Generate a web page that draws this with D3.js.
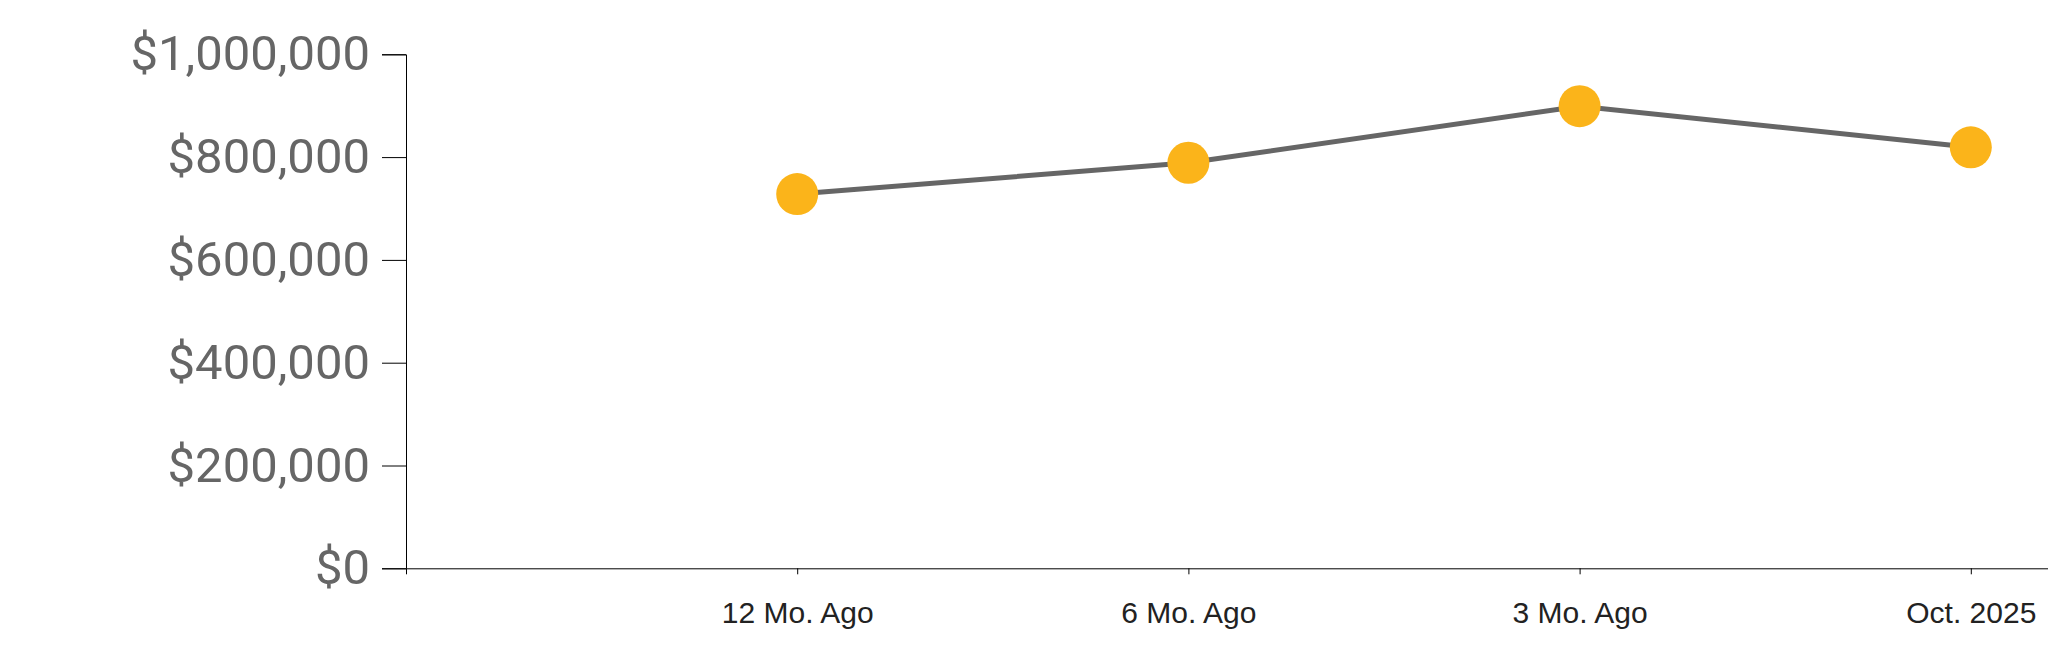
<!DOCTYPE html>
<html>
<head>
<meta charset="utf-8">
<script src="https://cdn.jsdelivr.net/npm/d3@7"></script>
<style>
  body { margin: 0; background: #fff; }
  svg { display: block; }
</style>
</head>
<body>
<div class="chart"></div>
<script>
const periods = ["12 Mo. Ago", "6 Mo. Ago", "3 Mo. Ago", "Oct. 2025"];
const values = [728000, 789000, 899000, 819000];
const yTicks = [0, 200000, 400000, 600000, 800000, 1000000];

const data = periods.map((p, i) => ({ period: p, value: values[i] }));

const totalWidth = 2048;
const totalHeight = 663;
const margin = { top: 54, left: 406, bottom: 95 };
const plotBottom = totalHeight - margin.bottom + 0.3;

const svg = d3
  .select(".chart")
  .append("svg")
  .attr("width", totalWidth)
  .attr("height", totalHeight);

// chart was wider than the screenshot, right part gets cut off
const xScale = d3
  .scalePoint()
  .domain(periods)
  .range([margin.left, margin.left + 1956])
  .padding(1);

const yScale = d3
  .scaleLinear()
  .domain([0, 1000000])
  .range([plotBottom, margin.top + 0.3]);

const xAxis = d3.axisBottom(xScale).tickPadding(27);
const yAxis = d3
  .axisLeft(yScale)
  .tickValues(yTicks)
  .tickFormat(d3.format("$,"))
  .tickSize(24)
  .tickPadding(12);

const xAxisGroup = svg
  .append("g")
  .attr("transform", `translate(0, ${plotBottom})`)
  .call(xAxis);

const yAxisGroup = svg
  .append("g")
  .attr("transform", `translate(${margin.left}, 0)`)
  .call(yAxis);

xAxisGroup
  .selectAll("text")
  .attr("font-family", "'Liberation Sans', Arial, sans-serif")
  .attr("font-size", 30)
  .attr("fill", "#222");

yAxisGroup
  .selectAll("text")
  .attr("font-family", "Roboto, sans-serif")
  .attr("font-size", 49)
  .attr("fill", "#666");

const line = d3
  .line()
  .x((d) => xScale(d.period))
  .y((d) => yScale(d.value));

svg
  .append("path")
  .datum(data)
  .attr("fill", "none")
  .attr("stroke", "#666")
  .attr("stroke-width", 5)
  .attr("d", line);

svg
  .append("g")
  .selectAll("circle")
  .data(data)
  .enter()
  .append("circle")
  .attr("cx", (d) => xScale(d.period))
  .attr("cy", (d) => yScale(d.value))
  .attr("r", 21)
  .attr("fill", "#fbb41a");
</script>
</body>
</html>
